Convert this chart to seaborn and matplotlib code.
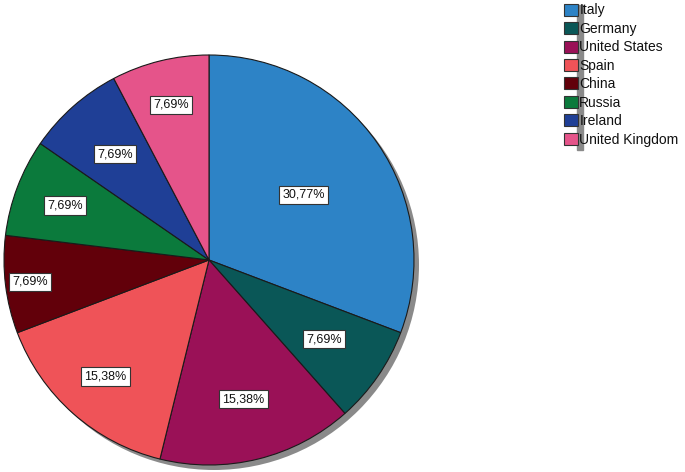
import numpy as np
import matplotlib
matplotlib.use("Agg")
import matplotlib.pyplot as plt
import seaborn as sns
from matplotlib.patches import Rectangle, Circle

countries = ['Italy', 'Germany', 'United States', 'Spain', 'China',
             'Russia', 'Ireland', 'United Kingdom']
counts = [4, 1, 2, 2, 1, 1, 1, 1]
colors = ['#2d83c6', '#0a5757', '#9a1157', '#ef5358', '#62000a',
          '#0b7a3c', '#1f3f96', '#e5548a']
# radial position of each percentage box (fraction of radius)
label_r = [0.56, 0.68, 0.70, 0.76, 0.88, 0.75, 0.69, 0.78]

sns.set_style("white")
plt.rcParams['font.family'] = ['Liberation Sans', 'DejaVu Sans']
plt.rcParams['text.color'] = '#111111'

fig = plt.figure(figsize=(6.85, 4.72), dpi=100)
ax = fig.add_axes([4 / 685, 7 / 472, 410 / 685, 410 / 472])

# drop shadow
sh = 5 / 205
ax.add_patch(Circle((sh, -sh), 1.0, color='#8a8a8a', zorder=0, lw=0, clip_on=False))

wedges, _ = ax.pie(counts, colors=sns.color_palette(colors), startangle=90,
                   counterclock=False, radius=1.0,
                   wedgeprops=dict(edgecolor='#1a1a1a', linewidth=0.8))
for w in wedges:
    w.set_zorder(1)
    w.set_clip_on(False)

total = sum(counts)
for w, c, r in zip(wedges, counts, label_r):
    ang = np.deg2rad((w.theta1 + w.theta2) / 2)
    pct = f"{100 * c / total:.2f}%".replace('.', ',')
    ax.text(r * np.cos(ang), r * np.sin(ang), pct, ha='center', va='center',
            fontsize=9, zorder=3,
            bbox=dict(boxstyle='square,pad=0.25', fc='white', ec='#333333', lw=0.8))

ax.set_xlim(-1, 1)
ax.set_ylim(-1, 1)
ax.set_aspect('equal')
ax.axis('off')

# legend shadow stripe
fig.patches.append(Rectangle((577 / 685, 1 - 150 / 472), 6 / 685, 145 / 472,
                             transform=fig.transFigure, color='#8a8a8a', zorder=2))

handles = [Rectangle((0, 0), 1, 1, fc=c, ec='#333333', lw=0.8) for c in colors]
fig.legend(handles, countries, loc='upper left', bbox_to_anchor=(561 / 685, 1.0),
           frameon=False, fontsize=10, handlelength=0.95, handleheight=0.95,
           handletextpad=0.12, labelspacing=0.32, borderaxespad=0.0,
           borderpad=0.25, labelcolor='#111111')

fig.savefig('out.png', dpi=100)
